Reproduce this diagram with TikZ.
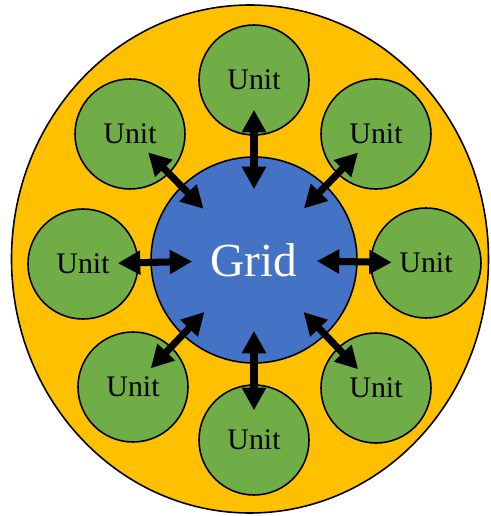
\documentclass[tikz,border=0pt]{standalone}
\usepackage{fontspec}
\setmainfont{Liberation Serif}
\usetikzlibrary{arrows.meta}
\definecolor{ringorange}{HTML}{FFC000}
\definecolor{unitgreen}{HTML}{70AD47}
\definecolor{gridblue}{HTML}{4472C4}

\begin{document}
\begin{tikzpicture}[
  unitnode/.style={circle, draw=black, line width=0.9pt, fill=unitgreen, minimum size=2.2cm, inner sep=0pt, font=\fontsize{17}{20}\selectfont},
  gridnode/.style={circle, draw=black, line width=0.9pt, fill=gridblue, minimum size=4.12cm, inner sep=0pt, text=white, font=\fontsize{27}{32}\selectfont},
  link/.style={{Triangle[length=0.45cm, width=0.46cm]}-{Triangle[length=0.45cm, width=0.46cm]}, line width=4pt, shorten <=-0.6cm, shorten >=-0.64cm},
]
\useasboundingbox (0,0) rectangle (9.8,10.32);

% Outer ring
\draw[fill=ringorange, line width=0.9pt] (5.0,5.14) ellipse (4.77cm and 5.08cm);

% Centre
\node[gridnode] (grid) at (5.08,5.12) {Grid};

% Units around the grid
\node[unitnode] (utop) at (5.08,8.72) {Unit};
\node[unitnode] (utr) at (7.52,7.64) {Unit};
\node[unitnode] (uright) at (8.52,5.06) {Unit};
\node[unitnode] (ubr) at (7.52,2.56) {Unit};
\node[unitnode] (ubot) at (5.08,1.52) {Unit};
\node[unitnode] (ubl) at (2.66,2.58) {Unit};
\node[unitnode] (uleft) at (1.66,5.04) {Unit};
\node[unitnode] (utl) at (2.60,7.64) {Unit};

% Two-way links
\draw[link, shorten <=-0.52cm, shorten >=-0.66cm] (utop) -- (grid);
\draw[link] (utr) -- (grid);
\draw[link, shorten <=-0.43cm, shorten >=-0.82cm] (uright) -- (grid);
\draw[link] (ubr) -- (grid);
\draw[link, shorten <=-0.52cm, shorten >=-0.66cm] (ubot) -- (grid);
\draw[link] (ubl) -- (grid);
\draw[link, shorten <=-0.42cm, shorten >=-0.84cm] (uleft) -- (grid);
\draw[link] (utl) -- (grid);

\end{tikzpicture}
\end{document}
